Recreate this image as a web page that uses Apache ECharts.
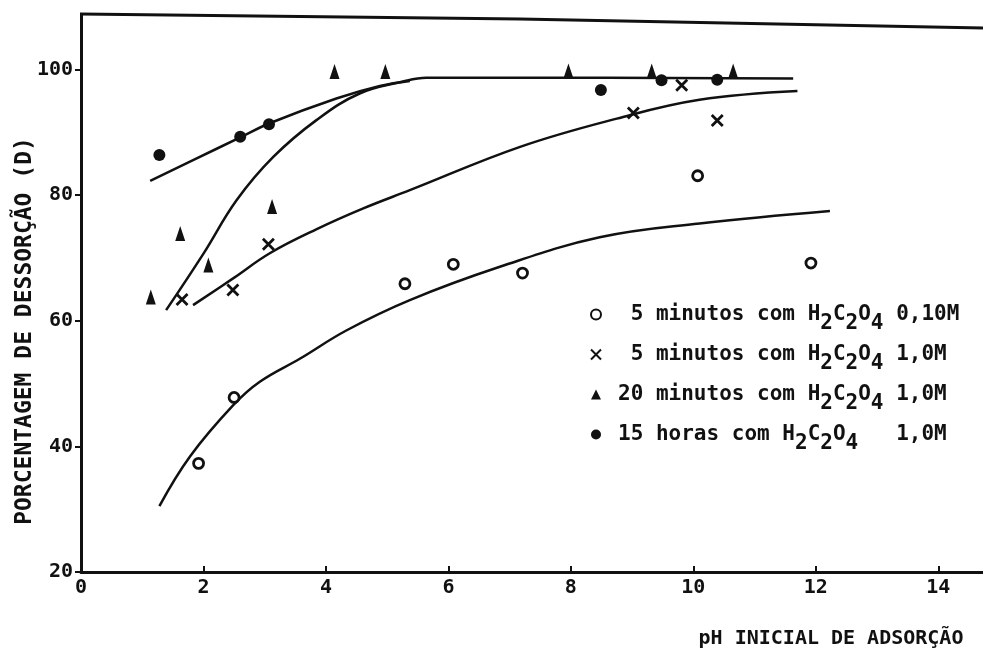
<!DOCTYPE html>
<html><head><meta charset="utf-8">
<script src="https://cdn.jsdelivr.net/npm/echarts@6/dist/echarts.min.js"></script>
<style>html,body{margin:0;padding:0;background:#fff}#c{width:983px;height:650px}</style>
</head><body><div id="c"></div>
<script>
// Tick labels
const xTicks = [0, 2, 4, 6, 8, 10, 12, 14];
const yTicks = [20, 40, 60, 80, 100];

// Legend / series names
const nameOpen = ' 5 minutos com H₂C₂O₄ 0,10M';
const nameX = ' 5 minutos com H₂C₂O₄ 1,0M';
const nameTri = '20 minutos com H₂C₂O₄ 1,0M';
const nameDot = '15 horas com H₂C₂O₄   1,0M';

// Measured points [pH, D %]
const ptsOpen = [[1.92,37.3],[2.5,47.8],[5.29,65.9],[6.08,69.0],[7.21,67.6],[10.07,83.1],[11.92,69.2]];
const ptsX = [[1.65,63.4],[2.48,64.9],[3.06,72.2],[9.02,93.1],[9.81,97.5],[10.39,91.9]];
const ptsTri = [[1.14,63.8],[1.62,73.9],[2.08,68.9],[3.12,78.2],[4.14,99.7],[4.97,99.7],[7.96,99.8],[9.32,99.8],[10.65,99.8]];
const ptsDot = [[1.28,86.4],[2.6,89.3],[3.07,91.3],[8.49,96.75],[9.48,98.3],[10.39,98.4]];

// Hand-drawn curves
const curveOpen = [[1.28,30.5],[1.78,38.4],[2.49,46.6],[2.92,50.3],[3.58,54.0],[4.34,58.5],[5.37,63.3],[6.84,68.6],[8.47,73.3],[10.1,75.5],[12.23,77.5]];
const curveX = [[1.83,62.5],[2.49,66.8],[3.09,70.8],[3.85,74.6],[4.61,77.9],[5.37,80.8],[7.17,87.7],[8.75,92.2],[10.1,95.2],[11.7,96.6]];
const curveTri = [[1.39,61.7],[2.0,70.7],[2.54,79.2],[3.14,86.1],[3.85,92.0],[4.55,96.2],[5.26,98.1],[5.64,98.7],[8.6,98.7],[11.63,98.6]];
const curveDot = [[1.13,82.3],[1.83,85.6],[2.6,89.2],[3.09,91.5],[4.17,95.4],[4.88,97.4],[5.37,98.2]];

const INK = '#111';
const FONT = "'DejaVu Sans Mono', 'Liberation Mono', monospace";

function curve(name, data) {
  return { name: name, type: 'line', data: data, smooth: 0.4,
    showSymbol: false, silent: true, lineStyle: { color: INK, width: 2.5 }, z: 2 };
}

const chart = echarts.init(document.getElementById('c'), null, { renderer: 'canvas' });
chart.setOption({
  animation: false,
  backgroundColor: '#fff',
  grid: { left: 81, right: 0, top: 15, bottom: 78, containLabel: false, outerBoundsMode: 'none' },
  xAxis: {
    type: 'value', min: 0, max: 14.73,
    name: 'pH INICIAL DE ADSORÇÃO', nameLocation: 'middle', nameGap: 57, nameMoveOverlap: false,
    nameTextStyle: { fontFamily: FONT, fontWeight: 'bold', fontSize: 20, color: INK, padding: [0, 0, 0, 598] },
    axisLine: { lineStyle: { color: INK, width: 3 } },
    axisTick: { inside: true, length: 6, lineStyle: { color: INK, width: 2 }, customValues: xTicks },
    axisLabel: { customValues: xTicks, margin: 6, fontFamily: FONT, fontWeight: 'bold', fontSize: 20, color: INK },
    splitLine: { show: false }
  },
  yAxis: {
    type: 'value', min: 20, max: 108.7,
    name: 'PORCENTAGEM DE DESSORÇÃO (D)', nameLocation: 'middle', nameRotate: 90, nameGap: 44, nameMoveOverlap: false,
    nameTextStyle: { fontFamily: FONT, fontWeight: 'bold', fontSize: 23, color: INK, padding: [0, 75, 0, 0] },
    axisLine: { lineStyle: { color: INK, width: 3 } },
    axisTick: { inside: false, length: 6, lineStyle: { color: INK, width: 2 }, customValues: yTicks },
    axisLabel: { customValues: yTicks, margin: 8, fontFamily: FONT, fontWeight: 'bold', fontSize: 20, color: INK },
    splitLine: { show: false }
  },
  legend: {
    data: [nameOpen, nameX, nameTri, nameDot],
    orient: 'vertical', left: 585, top: 299, itemWidth: 10, itemHeight: 10, itemGap: 10,
    selectedMode: false,
    formatter: function (n) {
      return n.replace(/[₂₄]/g, function (m) { return '{s|' + (m === '₂' ? '2' : '4') + '}'; });
    },
    textStyle: {
      fontFamily: FONT, fontWeight: 'bold', fontSize: 21, color: INK, padding: [0, 0, 0, 12],
      rich: { s: { fontFamily: FONT, fontWeight: 'bold', fontSize: 21, color: INK, padding: [18, 0, 0, 0] } }
    }
  },
  graphic: [{
    type: 'polyline', silent: true,
    shape: { points: [[80, 14], [520, 19], [983, 28]] },
    style: { stroke: INK, lineWidth: 3, fill: null }
  }],
  series: [
    { name: nameOpen, type: 'scatter', data: ptsOpen, symbol: 'circle', symbolSize: 10,
      itemStyle: { color: '#fff', borderColor: INK, borderWidth: 2.8, opacity: 1 }, z: 3 },
    { name: nameX, type: 'scatter', data: ptsX, symbol: 'path://M0,0L10,10M10,0L0,10', symbolSize: 11,
      itemStyle: { color: 'rgba(0,0,0,0)', borderColor: INK, borderWidth: 2.8, opacity: 1 }, z: 3 },
    { name: nameTri, type: 'scatter', data: ptsTri, symbol: 'triangle', symbolSize: [10, 15],
      itemStyle: { color: INK, opacity: 1 }, z: 3 },
    { name: nameDot, type: 'scatter', data: ptsDot, symbol: 'circle', symbolSize: 12,
      itemStyle: { color: INK, opacity: 1 }, z: 3 },
    curve('curva 1', curveOpen),
    curve('curva 2', curveX),
    curve('curva 3', curveTri),
    curve('curva 4', curveDot)
  ]
});
</script></body></html>
